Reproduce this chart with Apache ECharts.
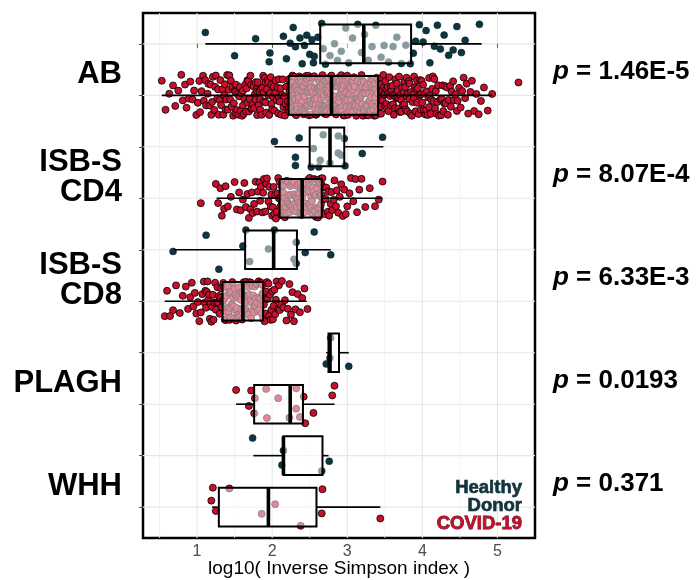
<!DOCTYPE html>
<html><head><meta charset="utf-8">
<script src="https://cdn.jsdelivr.net/npm/echarts@6/dist/echarts.min.js"></script>
<style>html,body{margin:0;padding:0;background:#fff}#c{width:696px;height:580px}</style>
</head><body><div id="c"></div>
<script>
// ---------------- data ----------------
const groups = ['AB', 'ISB-S\nCD4', 'ISB-S\nCD8', 'PLAGH', 'WHH'];
const pValues = ['1.46E-5', '8.07E-4', '6.33E-3', '0.0193', '0.371'];
const xTicks = [1, 2, 3, 4, 5];
const xTitle = 'log10( Inverse Simpson index )';
const legendHealthy = ['Healthy', 'Donor'];
const legendCovid = 'COVID-19';

// box statistics [lower whisker, Q1, median, Q3, upper whisker]
const boxHealthy = [
  [1.11, 2.64, 3.22, 3.85, 4.79],
  [2.03, 2.50, 2.77, 2.96, 3.48],
  [0.69, 1.64, 2.02, 2.33, 2.78],
  [2.72, 2.75, 2.77, 2.89, 3.02],
  [1.75, 2.15, 2.15, 2.67, 2.75]
];
const boxCovid = [
  [0.53, 2.22, 2.79, 3.41, 4.93],
  [1.26, 2.10, 2.40, 2.66, 3.47],
  [0.57, 1.34, 1.61, 1.88, 2.46],
  [1.52, 1.76, 2.24, 2.41, 2.83],
  [1.20, 1.29, 1.95, 2.59, 3.44]
];

// individual observations
const healthyAB = [1.11,1.50,1.78,1.96,1.97,2.15,2.19,2.24,2.28,2.31,2.37,2.40,2.43,2.46,2.50,2.53,2.55,2.56,2.61,2.66,2.68,2.71,2.77,2.83,2.87,2.92,2.98,3.02,3.07,3.14,3.19,3.23,3.28,3.33,3.38,3.45,3.49,3.55,3.61,3.66,3.72,3.78,3.84,3.88,3.91,3.96,4.01,4.05,4.10,4.16,4.20,4.24,4.29,4.35,4.41,4.46,4.52,4.57,4.76];
const healthyCD4 = [2.03,2.31,2.31,2.36,2.52,2.55,2.62,2.64,2.68,2.77,2.88,2.88,2.92,2.96,2.97,3.20,3.47];
const healthyCD8 = [0.68,1.12,1.29,1.61,1.65,1.70,1.95,2.03,2.29,2.32,2.32,2.44,2.56,2.78];
const healthyPLAGH = [2.72,2.77,2.78,3.02];
const healthyWHH = [1.74,2.13,2.15,2.66,2.76];

const covidAB = [0.53,0.58,0.63,0.68,0.71,0.75,0.79,0.81,0.84,0.86,0.89,0.91,0.94,0.96,0.99,
1.01,1.03,1.04,1.06,1.08,1.09,1.11,1.12,1.14,1.15,1.17,1.18,1.19,1.2,1.21,1.23,1.24,1.25,1.27,1.28,1.29,
1.3,1.31,1.32,1.34,1.35,1.36,1.37,1.38,1.39,1.4,1.41,1.42,1.43,1.44,1.45,1.46,1.47,1.48,1.49,
1.5,1.51,1.51,1.52,1.53,1.54,1.55,1.56,1.57,1.58,1.59,1.6,1.61,1.61,1.62,1.63,1.64,1.65,1.66,1.67,1.67,1.68,1.69,
1.7,1.71,1.72,1.72,1.73,1.74,1.75,1.76,1.77,1.78,1.78,1.79,1.8,1.8,1.81,1.82,1.83,1.84,1.84,1.85,1.86,1.87,1.88,1.89,1.89,
1.9,1.91,1.91,1.92,1.93,1.94,1.95,1.95,1.96,1.97,1.98,1.99,1.99,2.0,2.01,2.02,2.03,2.04,2.05,2.06,2.07,2.08,2.09,2.09,
2.1,2.11,2.12,2.13,2.14,2.15,2.16,2.17,2.18,2.19,2.2,2.21,
2.22,2.22,2.23,2.23,2.24,2.24,2.25,2.25,2.26,2.26,2.27,2.27,2.28,2.28,2.28,2.29,2.29,2.29,
2.3,2.3,2.31,2.31,2.32,2.32,2.32,2.33,2.33,2.34,2.34,2.35,2.35,2.35,2.36,2.36,2.37,2.37,2.38,2.38,2.38,2.39,2.39,
2.4,2.4,2.41,2.41,2.42,2.42,2.42,2.43,2.43,2.44,2.44,2.45,2.45,2.45,2.46,2.46,2.47,2.47,2.47,2.48,2.48,2.49,2.49,2.49,
2.5,2.5,2.51,2.51,2.51,2.52,2.52,2.53,2.53,2.54,2.54,2.54,2.55,2.55,2.56,2.56,2.57,2.57,2.57,2.58,2.58,2.59,2.59,2.59,
2.6,2.6,2.61,2.61,2.62,2.62,2.62,2.63,2.63,2.64,2.64,2.65,2.65,2.65,2.66,2.66,2.67,2.67,2.67,2.68,2.68,2.69,2.69,2.69,
2.7,2.7,2.71,2.71,2.72,2.72,2.72,2.73,2.73,2.74,2.74,2.75,2.75,2.75,2.76,2.76,2.77,2.77,2.77,2.78,2.78,2.79,2.79,
2.8,2.8,2.81,2.81,2.82,2.82,2.83,2.83,2.83,2.84,2.84,2.85,2.85,2.86,2.86,2.86,2.87,2.87,2.88,2.88,2.89,2.89,2.89,
2.9,2.9,2.91,2.91,2.92,2.92,2.93,2.93,2.94,2.94,2.94,2.95,2.95,2.96,2.96,2.97,2.97,2.97,2.98,2.98,2.99,2.99,
3.0,3.0,3.01,3.01,3.02,3.02,3.03,3.03,3.04,3.04,3.05,3.05,3.05,3.06,3.06,3.07,3.07,3.08,3.08,3.09,3.09,3.09,
3.1,3.1,3.11,3.11,3.12,3.12,3.13,3.13,3.14,3.14,3.15,3.15,3.16,3.16,3.17,3.17,3.18,3.18,3.19,3.19,3.19,
3.2,3.2,3.21,3.21,3.22,3.22,3.23,3.23,3.24,3.24,3.25,3.25,3.26,3.26,3.27,3.27,3.28,3.28,3.29,3.29,
3.3,3.3,3.31,3.31,3.32,3.32,3.33,3.33,3.34,3.34,3.35,3.35,3.36,3.36,3.37,3.37,3.38,3.38,3.39,3.39,3.4,3.41,
3.42,3.42,3.43,3.43,3.44,3.44,3.45,3.45,3.46,3.46,3.47,3.47,3.48,3.49,3.49,
3.5,3.5,3.51,3.52,3.52,3.53,3.54,3.54,3.55,3.56,3.56,3.57,3.58,3.58,3.59,
3.6,3.61,3.61,3.62,3.63,3.64,3.64,3.65,3.66,3.67,3.67,3.68,3.69,3.69,
3.7,3.71,3.72,3.72,3.73,3.74,3.75,3.76,3.76,3.77,3.78,3.79,3.79,
3.8,3.81,3.82,3.83,3.83,3.84,3.85,3.86,3.87,3.88,3.89,3.89,
3.9,3.91,3.92,3.93,3.93,3.94,3.95,3.96,3.97,3.98,3.98,3.99,
4.0,4.01,4.02,4.03,4.04,4.05,4.06,4.07,4.08,4.09,4.09,
4.1,4.11,4.12,4.13,4.14,4.15,4.16,4.17,4.18,4.19,
4.2,4.21,4.22,4.24,4.25,4.26,4.27,4.28,4.29,
4.3,4.31,4.33,4.34,4.35,4.37,4.38,4.39,
4.41,4.42,4.44,4.46,4.47,4.49,4.51,4.53,4.55,4.57,4.59,4.61,4.64,4.66,4.69,4.72,4.75,4.78,4.82,4.87,4.93,5.28];

const covidCD4 = [1.05,1.25,1.28,1.31,1.33,1.36,1.38,1.41,1.45,1.5,1.53,1.56,1.58,
1.61,1.63,1.65,1.67,1.69,1.71,1.73,1.74,1.76,1.78,
1.8,1.81,1.83,1.84,1.85,1.87,1.88,1.89,1.91,1.92,1.93,1.95,1.96,1.98,1.99,
2.0,2.01,2.02,2.03,2.04,2.05,2.06,2.07,2.08,2.09,
2.1,2.11,2.11,2.12,2.13,2.13,2.14,2.15,2.15,2.16,2.17,2.17,2.18,2.19,2.19,2.2,2.21,2.21,2.22,2.23,2.23,2.24,2.25,2.25,2.26,2.27,2.27,2.28,2.29,2.29,
2.3,2.31,2.31,2.32,2.33,2.33,2.34,2.35,2.35,2.36,2.37,2.37,2.38,2.38,2.39,2.39,2.4,
2.41,2.41,2.42,2.42,2.43,2.44,2.44,2.45,2.46,2.46,2.47,2.48,2.48,2.49,2.5,2.5,2.51,2.52,2.52,2.53,2.53,2.54,2.55,2.55,2.56,2.57,2.57,2.58,2.58,2.59,
2.6,2.6,2.61,2.61,2.62,2.62,2.63,2.63,2.64,2.64,2.65,2.65,2.66,2.66,2.66,2.67,2.67,
2.68,2.7,2.71,2.72,2.74,2.75,2.76,2.78,2.79,2.8,2.82,2.83,2.85,2.86,2.88,2.9,2.92,2.94,2.96,2.98,
3.0,3.03,3.05,3.08,3.11,3.13,3.16,3.19,3.24,3.3,3.37,3.42,3.47];

const covidCD8 = [0.57,0.6,0.64,0.68,0.72,0.77,0.81,0.85,0.88,
0.91,0.93,0.95,0.97,0.99,1.01,1.03,1.05,1.07,1.09,
1.1,1.11,1.12,1.13,1.14,1.15,1.16,1.17,1.18,1.19,1.2,1.21,1.22,1.23,1.24,1.25,1.26,1.27,1.28,1.29,1.3,1.31,1.32,1.33,
1.34,1.35,1.35,1.36,1.37,1.37,1.38,1.39,1.39,1.4,1.41,1.41,1.42,1.43,1.43,1.44,1.45,1.45,1.46,1.47,1.47,1.48,1.49,1.49,
1.5,1.51,1.51,1.52,1.53,1.53,1.54,1.55,1.55,1.56,1.57,1.57,1.58,1.59,1.59,1.6,1.6,1.61,1.61,
1.62,1.62,1.63,1.64,1.64,1.65,1.66,1.66,1.67,1.68,1.68,1.69,1.7,1.7,1.71,1.72,1.72,1.73,1.74,1.74,1.75,1.76,1.76,1.77,1.78,1.78,1.79,
1.8,1.8,1.81,1.82,1.82,1.83,1.84,1.84,1.85,1.86,1.86,1.87,1.87,1.88,1.88,1.88,
1.89,1.9,1.91,1.92,1.93,1.94,1.95,1.96,1.97,1.98,1.99,2.0,2.01,2.02,2.03,2.04,2.05,2.06,2.08,2.09,
2.1,2.12,2.13,2.15,2.17,2.19,2.21,2.23,2.25,2.27,2.29,2.31,2.34,2.37,2.4,2.43,2.47];

const covidPLAGH = [1.52,1.69,1.72,1.76,1.77,1.92,1.93,2.08,2.23,2.32,2.32,2.37,2.42,2.44,2.55,2.80,2.83];
const covidWHH = [1.19,1.21,1.25,1.43,1.86,2.04,2.38,2.66,2.67,3.44];

const healthyPts = [healthyAB, healthyCD4, healthyCD8, healthyPLAGH, healthyWHH];
const covidPts = [covidAB, covidCD4, covidCD8, covidPLAGH, covidWHH];

// ---------------- rendering ----------------
const FONT = '"Liberation Sans", Arial, Helvetica, sans-serif';
const HEALTHY_COL = '#0d3640';
const COVID_COL = '#c8102e';
const rowsAll = groups.map((_, i) => i);

// deterministic vertical spread (position only, not data): stratified + small perturbation
function jit(i, row) {
  const s = Math.sin((i + 1) * 12.9898 + (row + 1) * 78.233) * 43758.5453;
  const h = s - Math.floor(s);
  const t = (i * 0.6180339887 + row * 0.1234 + 0.3 * h) % 1;
  return (t - 0.5) * 0.8;
}
function toScatter(lists, offset) {
  const out = [];
  lists.forEach((vals, g) => {
    const row = 2 * g + offset;
    vals.forEach((v, i) => out.push([v, row + jit(i, row)]));
  });
  return out;
}
function toBoxes(stats, offset) {
  return stats.map((s, g) => [2 * g + offset].concat(s));
}

const vGrid = [0.5, 1, 1.5, 2, 2.5, 3, 3.5, 4, 4.5, 5];
const hGrid = [0, 1, 2, 3, 4, 5, 6, 7, 8, 9];

function boxRender(params, api) {
  const r = api.value(0);
  const lo = api.coord([api.value(1), r]);
  const q1 = api.coord([api.value(2), r]);
  const md = api.coord([api.value(3), r]);
  const q3 = api.coord([api.value(4), r]);
  const hi = api.coord([api.value(5), r]);
  const h = api.size([0, 0.75])[1];
  return {
    type: 'group',
    children: [
      { type: 'line', shape: { x1: lo[0], y1: lo[1], x2: q1[0], y2: q1[1] }, style: { stroke: '#000', lineWidth: 1.6 } },
      { type: 'line', shape: { x1: q3[0], y1: q3[1], x2: hi[0], y2: hi[1] }, style: { stroke: '#000', lineWidth: 1.6 } },
      { type: 'rect', shape: { x: q1[0], y: q1[1] - h / 2, width: q3[0] - q1[0], height: h },
        style: { fill: 'rgba(255,255,255,0.5)', stroke: '#000', lineWidth: 2 } },
      { type: 'line', shape: { x1: md[0], y1: md[1] - h / 2, x2: md[0], y2: md[1] + h / 2 }, style: { stroke: '#000', lineWidth: 3.6 } }
    ]
  };
}

const chart = echarts.init(document.getElementById('c'), null, { renderer: 'canvas' });
chart.setOption({
  animation: false,
  backgroundColor: '#fff',
  textStyle: { fontFamily: FONT },
  grid: { left: 143, right: 161, top: 13, bottom: 42, containLabel: false, outerBoundsMode: 'none',
    show: true, borderColor: '#000', borderWidth: 2.5, backgroundColor: 'transparent' },
  xAxis: {
    type: 'value', min: 0.28, max: 5.5,
    axisLine: { show: false },
    splitLine: { show: false },
    axisTick: { show: true, customValues: xTicks, length: 4, lineStyle: { color: '#555', width: 1 } },
    axisLabel: { customValues: xTicks, fontSize: 16, color: '#4d4d4d', margin: 6, fontFamily: FONT },
    name: xTitle, nameLocation: 'middle', nameGap: 21, nameMoveOverlap: false,
    nameTextStyle: { fontSize: 19, color: '#000', fontFamily: FONT, verticalAlign: 'top' }
  },
  yAxis: [{
    type: 'value', min: -0.6, max: 9.6, inverse: true,
    axisLine: { show: false },
    splitLine: { show: false },
    axisTick: { show: true, customValues: hGrid, length: 4, lineStyle: { color: '#555', width: 1 } },
    axisLabel: {
      customValues: rowsAll.map(g => 2 * g + 0.6),
      formatter: v => groups[Math.round((v - 0.6) / 2)],
      fontSize: 31, fontWeight: 'bold', color: '#000', lineHeight: 30, margin: 21, fontFamily: FONT
    }
  }, {
    type: 'value', min: -0.6, max: 9.6, inverse: true, position: 'right',
    axisLine: { show: false }, axisTick: { show: false }, splitLine: { show: false },
    axisLabel: {
      customValues: rowsAll.map(g => 2 * g + 0.54),
      formatter: v => '{i|p} = ' + pValues[Math.round((v - 0.54) / 2)],
      fontSize: 26, fontWeight: 'bold', color: '#000', margin: 18, fontFamily: FONT,
      rich: { i: { fontStyle: 'italic', fontWeight: 'bold', fontSize: 26, color: '#000', fontFamily: FONT } }
    }
  }],
  series: [
    {
      type: 'custom', silent: true, z: 0,
      data: vGrid.map(v => [v, 0]),
      encode: { x: 0, y: 1 },
      renderItem: (params, api) => {
        const x = api.coord([api.value(0), 0])[0];
        const cs = params.coordSys;
        const major = Number.isInteger(api.value(0));
        return { type: 'line', shape: { x1: x, y1: cs.y, x2: x, y2: cs.y + cs.height },
          style: { stroke: major ? '#e6e6e6' : '#f0f0f0', lineWidth: major ? 1.1 : 0.8 } };
      }
    },
    {
      type: 'custom', silent: true, z: 0,
      data: hGrid.map(r => [1, r]),
      encode: { x: 0, y: 1 },
      renderItem: (params, api) => {
        const y = api.coord([1, api.value(1)])[1];
        const cs = params.coordSys;
        return { type: 'line', shape: { x1: cs.x, y1: y, x2: cs.x + cs.width, y2: y },
          style: { stroke: '#e6e6e6', lineWidth: 1.1 } };
      }
    },
    {
      name: 'Healthy Donor', type: 'scatter', z: 2, symbolSize: 7,
      data: toScatter(healthyPts, 0),
      itemStyle: { color: HEALTHY_COL, borderColor: '#061c22', borderWidth: 0.5, opacity: 1 }
    },
    {
      name: 'COVID-19', type: 'scatter', z: 2, symbolSize: 7,
      data: toScatter(covidPts, 1),
      itemStyle: { color: COVID_COL, borderColor: '#000', borderWidth: 0.8, opacity: 1 }
    },
    {
      type: 'custom', silent: true, z: 3,
      data: toBoxes(boxHealthy, 0).concat(toBoxes(boxCovid, 1)),
      encode: { x: [1, 2, 3, 4, 5], y: 0 },
      renderItem: boxRender
    }
  ],
  graphic: [
    { type: 'text', z: 10, x: 522, y: 488, style: { text: legendHealthy[0], align: 'right', verticalAlign: 'middle', textAlign: 'right', textVerticalAlign: 'middle', fontSize: 18.5, fontWeight: 'bold', fontFamily: FONT, fill: HEALTHY_COL, stroke: '#041418', lineWidth: 0.6 } },
    { type: 'text', z: 10, x: 522, y: 506, style: { text: legendHealthy[1], align: 'right', verticalAlign: 'middle', textAlign: 'right', textVerticalAlign: 'middle', fontSize: 18.5, fontWeight: 'bold', fontFamily: FONT, fill: HEALTHY_COL, stroke: '#041418', lineWidth: 0.6 } },
    { type: 'text', z: 10, x: 522, y: 524, style: { text: legendCovid, align: 'right', verticalAlign: 'middle', textAlign: 'right', textVerticalAlign: 'middle', fontSize: 18.5, fontWeight: 'bold', fontFamily: FONT, fill: COVID_COL, stroke: '#4a0612', lineWidth: 0.8 } }
  ]
});
</script>
</body></html>
